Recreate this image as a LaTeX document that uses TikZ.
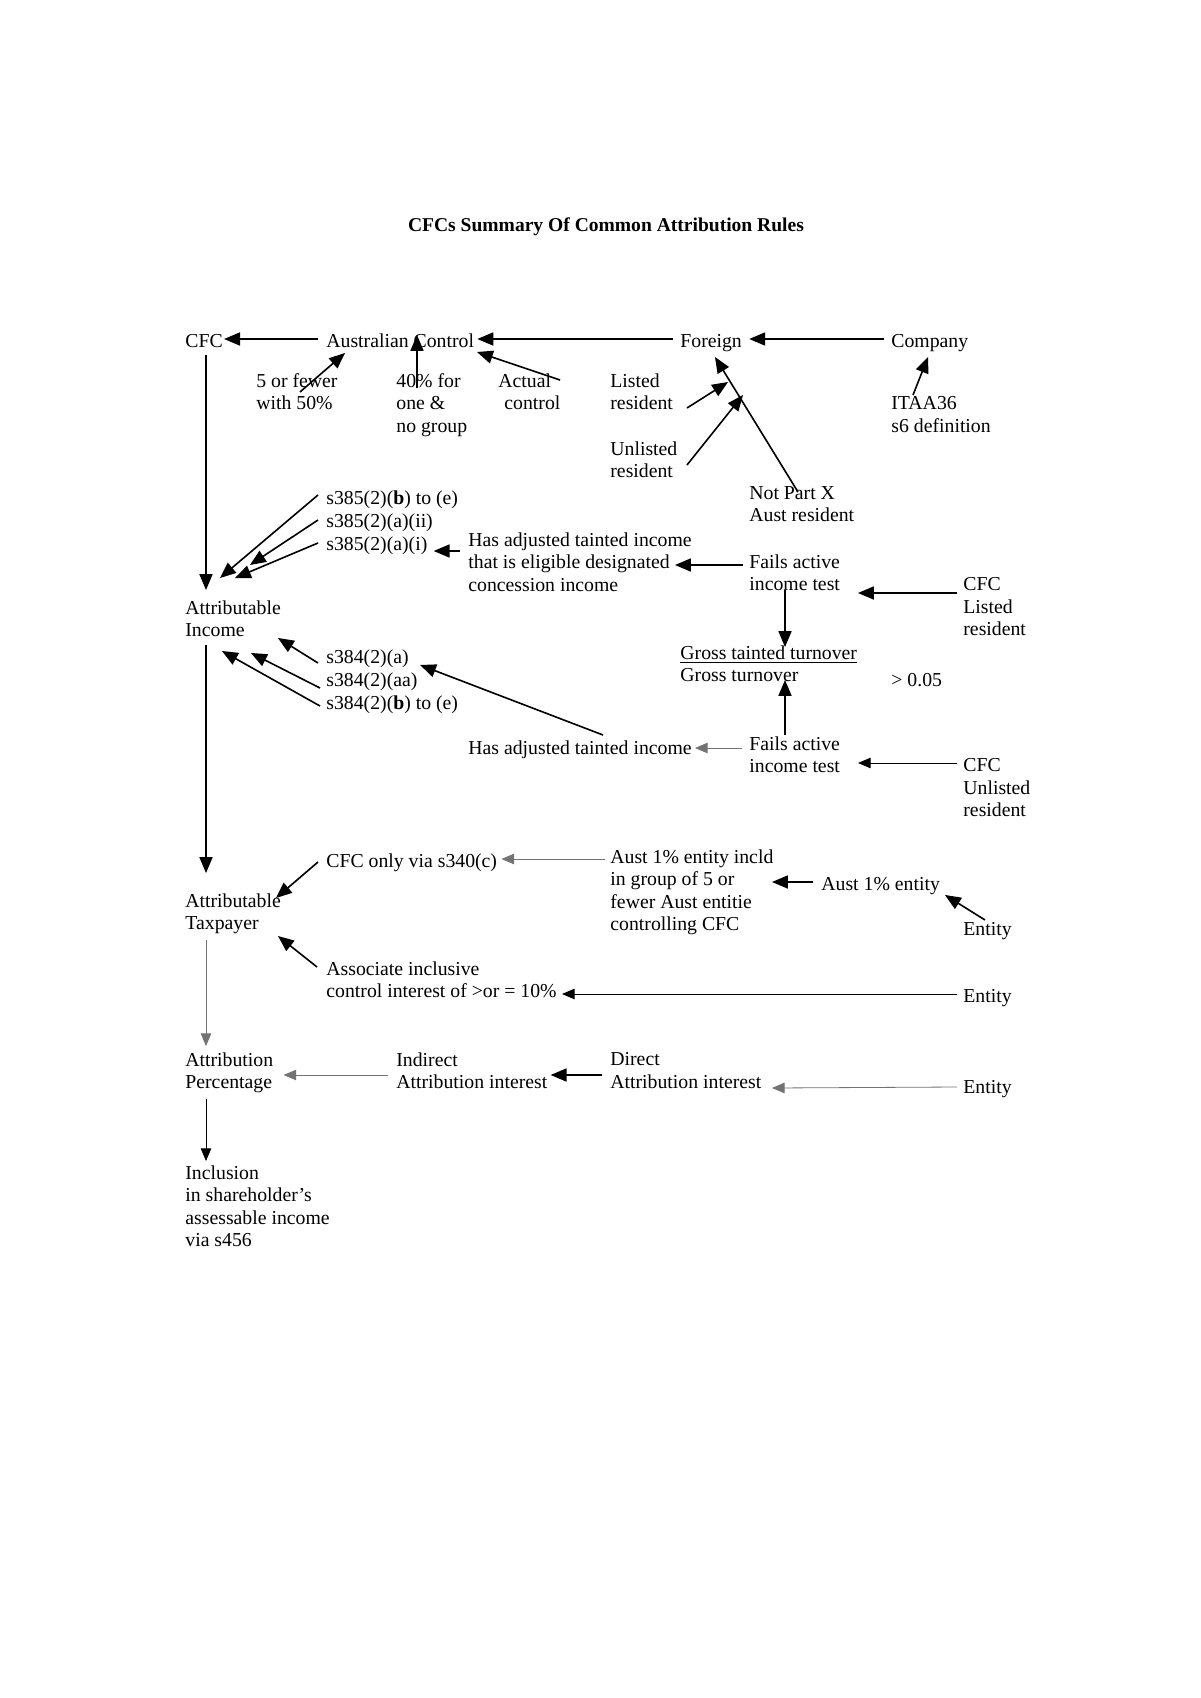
\documentclass[tikz,border=0pt]{standalone}
\usepackage{fontspec}
\setmainfont{Liberation Serif}
\usetikzlibrary{arrows,calc}
\tikzset{%
  txt/.style     = {anchor=north west, inner sep=0pt, align=left,
    font=\fontsize{9.8}{11.2}\selectfont, execute at begin node=\rule{0pt}{8.9pt}},
  heading/.style = {inner sep=0pt, font=\fontsize{9.7}{11}\selectfont\bfseries},
  link/.style    = {->, thick}, % dark connector
  faint/.style   = {->, thin, black!55} % light connector
}

\begin{document}
\begin{tikzpicture}[x=0.4961pt, y=-0.4961pt, >=triangle 45]
\fill[white] (0,0) rectangle (1200,1698);
\node at (606,227) [heading] (title) {CFCs Summary Of Common Attribution Rules};
\draw
	% Drawing the top row and what feeds it:
	node at (185,329) [txt] (cfc) {CFC}
	node at (326,329) [txt] (ausctl) {Australian Control}
	node at (680,329) [txt] (foreign) {Foreign}
	node at (891,329) [txt] (company) {Company}
	node at (256,373) [txt] (fewer) {5 or fewer\\with 50\%}
	node at (396,373) [txt] (forty) {40\% for\\one \&\\no group}
	node at (498,373) [txt] (actual) {Actual\\\hspace*{3pt}control}
	node at (610,373) [txt] (listed) {Listed\\resident}
	node at (610,441) [txt] (unlisted) {Unlisted\\resident}
	node at (891,396) [txt] (itaa) {ITAA36\\s6 definition}
	node at (749,486) [txt] (notx) {Not Part X\\Aust resident}
;
\draw
	% Attributable income:
	node at (185,600) [txt] (attinc) {Attributable\\Income}
	node at (326,486) [txt] (s385be) {s385(2)(\textbf{b}) to (e)}
	node at (326,509) [txt] (s385aii) {s385(2)(a)(ii)}
	node at (326,532) [txt] (s385ai) {s385(2)(a)(i)}
	node at (468,532) [txt] (hasadj1) {Has adjusted tainted income\\that is eligible designated\\concession income}
	node at (749,554) [txt] (fails1) {Fails active\\income test}
	node at (963,577) [txt] (cfclist) {CFC\\Listed\\resident}
	node at (680,645) [txt] (gross) {\underline{Gross tainted turnover}\\Gross turnover}
	node at (891,668) [txt] (ratio) {> 0.05}
	node at (326,645) [txt] (s384a) {s384(2)(a)}
	node at (326,668) [txt] (s384aa) {s384(2)(aa)}
	node at (326,691) [txt] (s384be) {s384(2)(\textbf{b}) to (e)}
	node at (468,736) [txt] (hasadj2) {Has adjusted tainted income}
	node at (749,736) [txt] (fails2) {Fails active\\income test}
	node at (963,758) [txt] (cfcunl) {CFC\\Unlisted\\resident}
;
\draw
	% Attributable taxpayer and percentage:
	node at (185,893) [txt] (atttax) {Attributable\\Taxpayer}
	node at (326,849) [txt] (cfconly) {CFC only via s340(c)}
	node at (610,849) [txt] (aust1g) {Aust 1\% entity incld\\in group of 5 or\\fewer Aust entitie\\controlling CFC}
	node at (821,872) [txt] (aust1) {Aust 1\% entity}
	node at (963,917) [txt] (entity1) {Entity}
	node at (326,961) [txt] (assoc) {Associate inclusive\\control interest of >or = 10\%}
	node at (963,984) [txt] (entity2) {Entity}
	node at (185,1052) [txt] (attpct) {Attribution\\Percentage}
	node at (396,1052) [txt] (indirect) {Indirect\\Attribution interest}
	node at (610,1052) [txt] (direct) {Direct\\Attribution interest}
	node at (963,1075) [txt] (entity3) {Entity}
	node at (185,1165) [txt] (inclusion) {Inclusion\\in shareholder's\\assessable income\\via s456}
;
	% Joining the top row
	\draw[link] ($(ausctl.north west)+(-8,10)$) -- ($(cfc.north east)+(1,10)$);
	\draw[link] ($(foreign.north west)+(-7,10)$) -- ($(ausctl.north east)+(3,10)$);
	\draw[link] ($(company.north west)+(-7,10)$) -- ($(foreign.north east)+(7,10)$);
	\draw[link] ($(fewer.north west)+(44,19)$) -- ($(ausctl.north west)+(19,24)$);
	\draw[link] ($(forty.north west)+(21,15)$) -- ($(ausctl.north west)+(91,6)$);
	\draw[link] ($(actual.north west)+(62,7)$) -- ($(ausctl.north west)+(151,23)$);
	\draw[link] ($(listed.north west)+(77,35)$) -- ($(foreign.north west)+(48,53)$);
	\draw[link] ($(unlisted.north west)+(77,24)$) -- ($(foreign.north west)+(63,66)$);
	\draw[link] ($(notx.north west)+(49,6)$) -- ($(foreign.north west)+(35,28)$);
	\draw[link] ($(itaa.north west)+(22,-1)$) -- ($(company.north west)+(37,28)$);
	% Joining the income blocks
	\draw[link] ($(cfc.north west)+(21,26)$) -- ($(attinc.north west)+(21,-10)$);
	\draw[link] ($(s385be.north west)+(-8,9)$) -- ($(attinc.north west)+(35,-22)$);
	\draw[link] ($(s385aii.north west)+(-8,11)$) -- ($(attinc.north west)+(65,-35)$);
	\draw[link] ($(s385ai.north west)+(-8,11)$) -- ($(attinc.north west)+(50,-22)$);
	\draw[link] ($(hasadj1.north west)+(-8,19)$) -- ($(s385ai.north east)+(6,19)$);
	\draw[link] ($(fails1.north west)+(-6,11)$) -- ($(hasadj1.north west)+(207,33)$);
	\draw[link] ($(cfclist.north west)+(-6,16)$) -- ($(fails1.north west)+(109,39)$);
	\draw[link] ($(fails1.north west)+(36,36)$) -- ($(gross.north west)+(105,2)$);
	\draw[link] ($(fails2.north west)+(36,-1)$) -- ($(gross.north west)+(105,35)$);
	\draw[faint] ($(fails2.north west)+(-7,12)$) -- ($(hasadj2.north east)+(3,12)$);
	\draw[link, thin] ($(cfcunl.north west)+(-6,5)$) -- ($(fails2.north west)+(109,27)$);
	\draw[link] ($(hasadj2.north west)+(135,-1)$) -- ($(s384a.north east)+(11,20)$);
	\draw[link] ($(s384a.north west)+(-8,18)$) -- ($(attinc.north west)+(93,38)$);
	\draw[link] ($(s384aa.north west)+(-6,20)$) -- ($(attinc.north west)+(66,53)$);
	\draw[link] ($(s384be.north west)+(-6,15)$) -- ($(attinc.north west)+(37,51)$);
	% Joining the taxpayer blocks
	\draw[link] ($(attinc.north west)+(21,45)$) -- ($(atttax.north west)+(21,-20)$);
	\draw[faint] ($(aust1g.north west)+(-5,10)$) -- ($(cfconly.north east)+(4,10)$);
	\draw[link] ($(cfconly.north west)+(-8,13)$) -- ($(atttax.north west)+(91,5)$);
	\draw[link] ($(aust1.north west)+(-8,10)$) -- ($(aust1g.north west)+(162,33)$);
	\draw[link] ($(entity1.north west)+(22,3)$) -- ($(aust1.north west)+(124,23)$);
	\draw[link] ($(assoc.north west)+(-9,6)$) -- ($(atttax.north west)+(93,43)$);
	\draw[link, thin] ($(entity2.north west)+(-6,10)$) -- ($(assoc.north east)+(5,33)$);
	% Joining the percentage blocks
	\draw[faint] ($(entity3.north west)+(-6,12)$) -- ($(direct.north west)+(162,36)$);
	\draw[link] ($(direct.north west)+(-8,23)$) -- ($(indirect.north east)+(3,23)$);
	\draw[faint] ($(indirect.north west)+(-8,23)$) -- ($(attpct.north east)+(10,23)$);
	\draw[faint] ($(atttax.north west)+(21,47)$) -- ($(attpct.north west)+(21,-6)$);
	\draw[link, thin] ($(attpct.north west)+(21,47)$) -- ($(inclusion.north west)+(21,-4)$);
\end{tikzpicture}
\end{document}
